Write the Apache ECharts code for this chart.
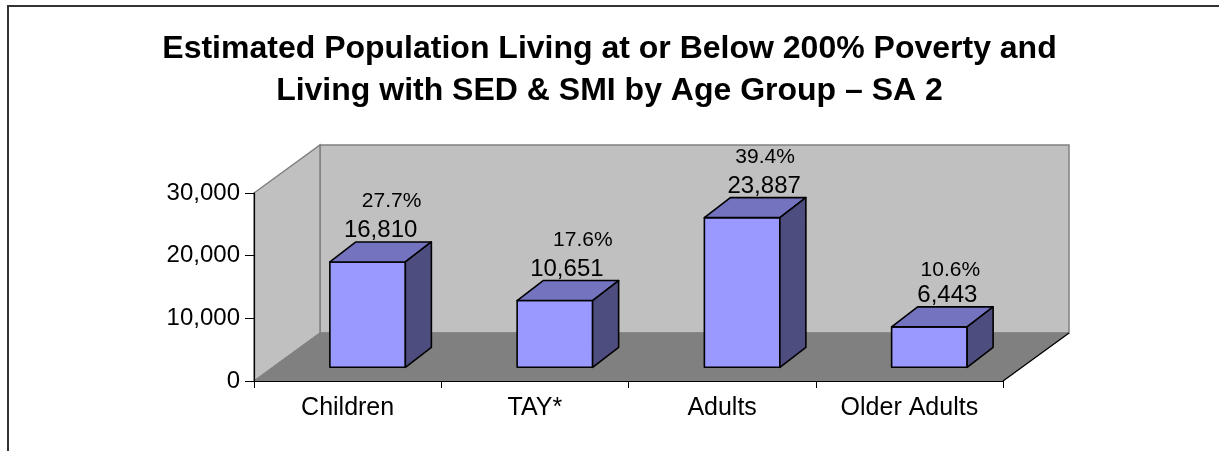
<!DOCTYPE html>
<html>
<head>
<meta charset="utf-8">
<script src="https://cdn.jsdelivr.net/npm/echarts@6/dist/echarts.min.js"></script>
<style>
  html, body { margin: 0; padding: 0; background: #fff; }
  #chart { width: 1219px; height: 451px; }
</style>
</head>
<body>
<div id="chart"></div>
<script>
// data
var categories = ['Children', 'TAY*', 'Adults', 'Older Adults'];
var population = [16810, 10651, 23887, 6443];
var percentLabels = ['27.7%', '17.6%', '39.4%', '10.6%'];
var yTicks = { min: 0, max: 30000, step: 10000 };

// label nudges (px) to follow the hand-placed labels of the original
var valueNudge = [0, -1, 9, 5];
var pctNudge = [[11, 0], [16, 0], [1, 0], [3, 4]];

var font = '"Liberation Sans", Arial, sans-serif';

// pseudo 3d geometry, in pixels
var DEPTH = [66, 48];       // whole chart depth
var BAR_SHIFT = [20, 13.7]; // where the bar front sits inside the depth
var BAR_DEPTH = [26, 20];
var BAR_W = 75.5;

var myChart = echarts.init(document.getElementById('chart'));

function renderWalls(params, api) {
    var cs = params.coordSys;
    var l = cs.x, r = cs.x + cs.width, t = cs.y, b = cs.y + cs.height;
    var dx = DEPTH[0], dy = DEPTH[1];
    return {
        type: 'group',
        children: [
            { type: 'polygon', shape: { points: [[l + dx, t - dy], [r + dx, t - dy], [r + dx, b - dy], [l + dx, b - dy]] },
              style: { fill: '#c0c0c0', stroke: '#808080', lineWidth: 1.5 } },
            { type: 'polygon', shape: { points: [[l, t], [l + dx, t - dy], [l + dx, b - dy], [l, b]] },
              style: { fill: '#c0c0c0', stroke: '#808080', lineWidth: 1.5 } },
            { type: 'polygon', shape: { points: [[l, b], [l + dx, b - dy], [r + dx, b - dy], [r, b]] },
              style: { fill: '#808080', stroke: '#808080', lineWidth: 1 } },
            { type: 'line', shape: { x1: r, y1: b, x2: r + dx, y2: b - dy },
              style: { stroke: '#000', lineWidth: 1.2 } }
        ]
    };
}

function renderBar(params, api) {
    var i = params.dataIndex;
    var base = api.coord([api.value(0), 0]);
    var top = api.coord([api.value(0), api.value(1)]);
    var x0 = base[0] + BAR_SHIFT[0] - BAR_W / 2;
    var x1 = x0 + BAR_W;
    var yb = base[1] - BAR_SHIFT[1];
    var yt = top[1] - BAR_SHIFT[1];
    var dx = BAR_DEPTH[0], dy = BAR_DEPTH[1];
    var edge = { stroke: '#000', lineWidth: 1.6, lineJoin: 'round' };

    var vx = (x0 + x1) / 2 + dx / 2 + valueNudge[i];
    var vBase = yt - dy - 4.5;   // baseline of the value label
    var px = vx + pctNudge[i][0];
    var pBase = vBase - 29.5 + pctNudge[i][1];

    return {
        type: 'group',
        children: [
            { type: 'polygon', shape: { points: [[x0, yt], [x1, yt], [x1, yb], [x0, yb]] },
              style: Object.assign({ fill: '#9999ff' }, edge) },
            { type: 'polygon', shape: { points: [[x0, yt], [x0 + dx, yt - dy], [x1 + dx, yt - dy], [x1, yt]] },
              style: Object.assign({ fill: '#7373bf' }, edge) },
            { type: 'polygon', shape: { points: [[x1, yt], [x1 + dx, yt - dy], [x1 + dx, yb - dy], [x1, yb]] },
              style: Object.assign({ fill: '#4d4d80' }, edge) },
            { type: 'text', style: { text: echarts.format.addCommas(api.value(1)), x: vx, y: vBase + 5,
              textAlign: 'center', textVerticalAlign: 'bottom', fill: '#000', font: '24px ' + font } },
            { type: 'text', style: { text: percentLabels[i], x: px, y: pBase + 4,
              textAlign: 'center', textVerticalAlign: 'bottom', fill: '#000', font: '21px ' + font } }
        ]
    };
}

var option = {
    animation: false,
    backgroundColor: '#fff',
    textStyle: { fontFamily: font },
    title: {
        text: 'Estimated Population Living at or Below 200% Poverty and\nLiving with SED & SMI by Age Group \u2013 SA 2',
        left: 'center',
        top: 23,
        textStyle: { fontSize: 32, fontWeight: 'bold', color: '#000', lineHeight: 42, fontFamily: font }
    },
    graphic: [{
        type: 'rect', shape: { x: 8, y: 6, width: 1400, height: 600 },
        style: { fill: null, stroke: '#333', lineWidth: 2 }, z: 100
    }],
    grid: { left: 254, right: 216, top: 193, bottom: 70 },
    xAxis: {
        type: 'category',
        data: categories,
        z: 4,
        axisLine: { lineStyle: { color: '#000', width: 1.2 } },
        axisTick: { show: true, length: 7, lineStyle: { color: '#000' } },
        axisLabel: { fontSize: 25, color: '#000', margin: 15, fontFamily: font }
    },
    yAxis: {
        type: 'value',
        min: yTicks.min,
        max: yTicks.max,
        interval: yTicks.step,
        z: 4,
        splitLine: { show: false },
        axisLine: { show: true, lineStyle: { color: '#000', width: 1.2 } },
        axisTick: { show: true, length: 9, lineStyle: { color: '#000' } },
        axisLabel: { fontSize: 24, color: '#000', margin: 14, fontFamily: font,
            formatter: function (v) { return echarts.format.addCommas(v); } }
    },
    series: [{
        type: 'custom',
        z: 1,
        renderItem: renderWalls,
        data: [[0, 0]],
        silent: true
    }, {
        type: 'custom',
        z: 5,
        renderItem: renderBar,
        data: population.map(function (v, i) { return [i, v]; })
    }]
};

myChart.setOption(option);
</script>
</body>
</html>
